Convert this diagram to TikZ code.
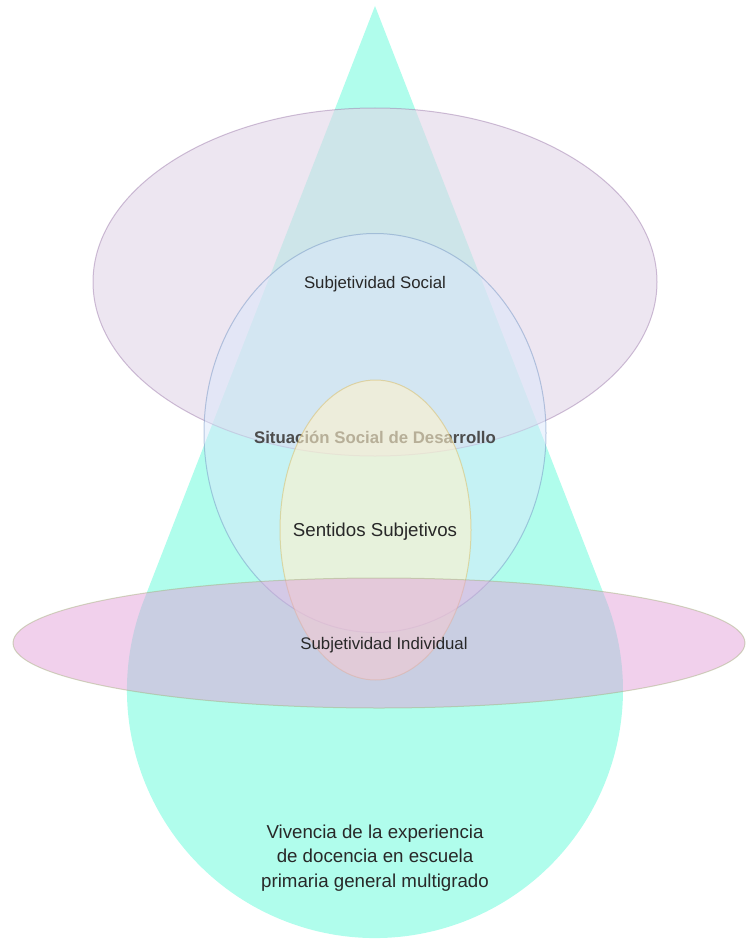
\documentclass[tikz,border=0pt]{standalone}
\usepackage{fontspec}
\setmainfont{Liberation Sans}
\usetikzlibrary{shapes.geometric, positioning, calc}

\definecolor{dropcyan}{RGB}{176,253,236}
\definecolor{socialfill}{RGB}{225,213,231}
\definecolor{socialline}{RGB}{150,115,166}
\definecolor{ssdfill}{RGB}{218,232,252}
\definecolor{ssdline}{RGB}{108,142,191}
\definecolor{sentfill}{RGB}{255,242,204}
\definecolor{sentline}{RGB}{214,182,86}
\definecolor{indfill}{RGB}{227,161,217}
\definecolor{indline}{RGB}{160,175,120}
\definecolor{txt}{RGB}{40,40,40}

\tikzset{
  blob/.style={ellipse, inner sep=0pt, outer sep=0pt, line width=1pt,
    fill opacity=0.6, draw opacity=0.45, text opacity=1},
  lbl/.style={text=txt, font=\fontsize{16.8}{20}\selectfont, align=center},
  biglbl/.style={text=txt, font=\fontsize{18.7}{24.5}\selectfont, align=center}
}

\begin{document}
\begin{tikzpicture}[x=1pt, y=-1pt]
\useasboundingbox (0,0) rectangle (745,939);

% Drop: tip and lower circle
\coordinate (tip) at (375,6);
\coordinate (base) at (375,690);
\fill[dropcyan] (tip) -- ($(base)+(201.26:248)$)
    arc[start angle=201.26, end angle=-21.26, radius=248] -- cycle;

% Social subjectivity and social situation
\node[blob, fill=socialfill, draw=socialline, minimum width=564, minimum height=348] (social) at (375,282) {};
\node[blob, fill=ssdfill, draw=ssdline, fill opacity=0.5, minimum width=342, minimum height=399] (ssd) at (375,433) {};
\node[lbl] (lsocial) at (375,284) {Subjetividad Social};
\node[lbl, text=black!70, font=\fontsize{16.8}{20}\selectfont\bfseries] (lssd) at (375,437) {Situación Social de Desarrollo};

% Subjective senses
\node[blob, fill=sentfill, draw=sentline, minimum width=191, minimum height=300] (sentidos) at (375.5,530) {};
\node[biglbl] (lsentidos) at (375,532) {Sentidos Subjetivos};

% Individual subjectivity
\node[blob, fill=indfill, draw=indline, fill opacity=0.5, minimum width=732, minimum height=130] (individual) at (379,643) {};
\node[lbl] (lindividual) at (384,645) {Subjetividad Individual};

% Experience
\node[biglbl] (vivencia) at (375,858) {Vivencia de la experiencia\\de docencia en escuela\\primaria general multigrado};

\end{tikzpicture}
\end{document}
